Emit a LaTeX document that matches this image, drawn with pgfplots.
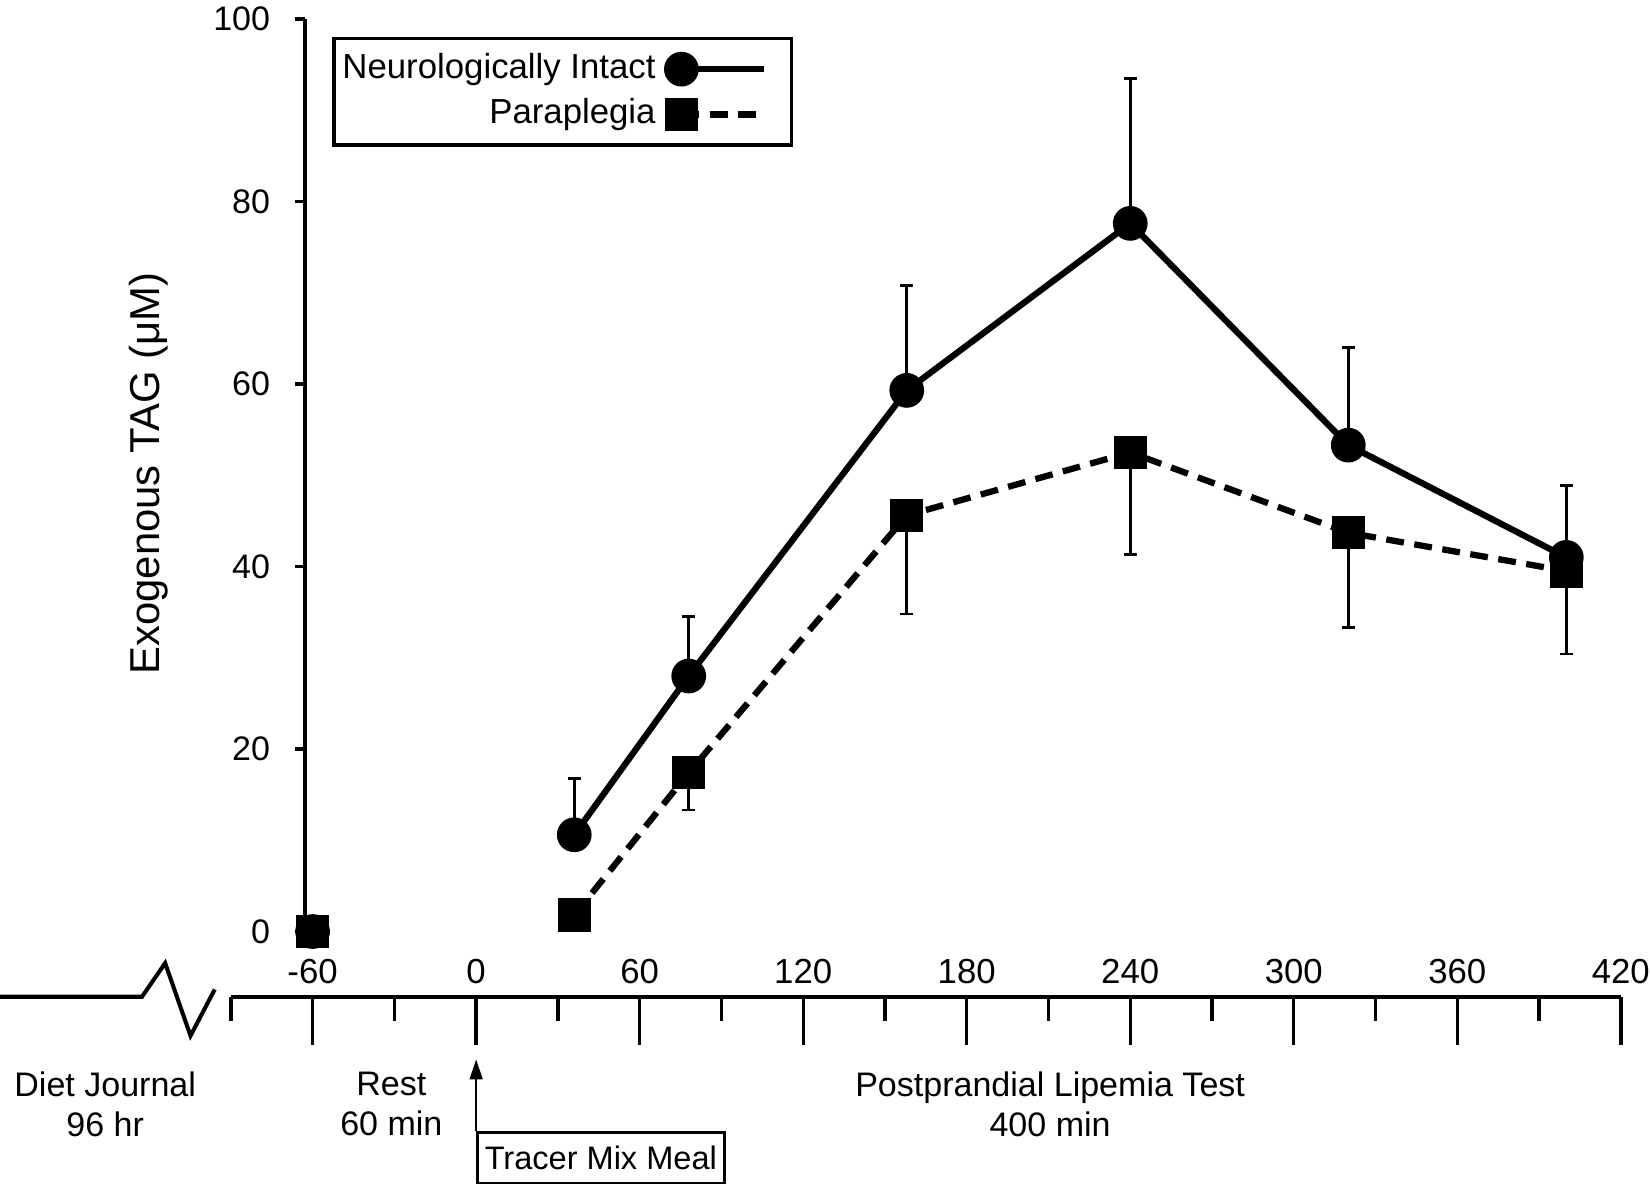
\documentclass[border=0pt]{standalone}
\usepackage{fontspec}
\setmainfont{Liberation Sans}
\usepackage{pgfplots}
\usepackage{pgfplotstable}
\pgfplotsset{compat=1.18}
\usetikzlibrary{arrows.meta}

\newcommand\fs{\fontsize{9.2pt}{10.8pt}\selectfont}

\pgfplotstableread{
x y e
-60 0 0
-20 nan 0
36 10.6 6.2
78 28.0 6.5
158 59.3 11.5
240 77.6 15.9
320 53.3 10.7
400 41.0 7.9
}\intact

\pgfplotstableread{
x y e
-60 0 0
-20 nan 0
36 1.8 0
78 17.4 4.1
158 45.6 10.8
240 52.5 11.2
320 43.7 10.4
400 39.5 9.1
}\para

\begin{document}
\begin{tikzpicture}
% ---------- x axis (labels above, ticks below)
\begin{axis}[
  x=0.0259cm, y=0.0867cm,
  at={(0cm,-1.1141cm)}, anchor=south west,
  xmin=-90, xmax=420, ymin=-20, ymax=-7.15,
  axis x line=top, axis y line=none,
  x axis line style={-, line width=1.1pt},
  xtick={-60,0,...,420},
  xticklabels={-60,0,60,120,180,240,300,360,420},
  minor xtick={-90,-30,...,390},
  xtick align=inside,
  major tick length=0.46cm, minor tick length=0.23cm,
  tick style={black, line width=0.9pt},
  xticklabel style={font=\fontsize{9.4pt}{11pt}\selectfont, anchor=south},
]
\addplot[draw=none] coordinates {(0,-10)};
\end{axis}
% ---------- y axis
\begin{axis}[
  x=0.0259cm, y=0.0867cm,
  at={(0.7071cm,0.6199cm)}, anchor=south west,
  xmin=-62.7, xmax=420, ymin=0, ymax=100,
  axis y line=left, axis x line=none,
  y axis line style={-, line width=1.1pt},
  ytick={0,20,...,100}, yticklabels={0,20,40,60,80,100},
  ytick align=outside, major tick length=0.1cm,
  tick style={black, line width=0.9pt},
  yticklabel style={font=\fs, xshift=-0.11cm},
  ylabel={Exogenous TAG (μM)},
  ylabel style={font=\fontsize{11.3pt}{13pt}\selectfont, at={(axis description cs:-0.1193,0.502)}, anchor=center},
]
\addplot[draw=none] coordinates {(0,50)};
\end{axis}
% ---------- data
\begin{axis}[
  x=0.0259cm, y=0.0867cm,
  at={(0cm,0cm)}, anchor=south west,
  xmin=-90, xmax=420, ymin=-7.15, ymax=100,
  hide axis, clip=false, unbounded coords=jump,
  legend plot pos=right,
  legend cell align=right,
  legend style={at={(axis description cs:0.0731,0.9815)}, anchor=north west,
    draw=black, line width=0.85pt, font=\fontsize{9.4pt}{11pt}\selectfont,
    inner xsep=0.01cm, inner ysep=0.115cm, row sep=0.08cm, column sep=0.04cm,
    nodes={inner ysep=0.02cm, text height=0.24cm, text depth=0.07cm}},
  legend image code/.code={\draw[#1, mark repeat=2, mark phase=1] plot coordinates {(0cm,0cm) (0.78cm,0cm)}; \path (1.01cm,0cm);},
]
\addplot[black, line width=1.7pt, mark=*, mark size=0.135cm, mark options={solid},
  error bars/.cd, y dir=plus, y explicit,
  error bar style={line width=0.7pt, solid},
  error mark=-, error mark options={rotate=90, line width=0.7pt, mark size=0.06cm, black, solid}]
  table[x=x, y=y, y error=e] {\intact};
\addplot[black, line width=1.7pt, dash pattern=on 0.17cm off 0.1cm, mark=square*, mark size=0.128cm, mark options={solid},
  error bars/.cd, y dir=minus, y explicit,
  error bar style={line width=0.7pt, solid},
  error mark=-, error mark options={rotate=90, line width=0.7pt, mark size=0.06cm, black, solid}]
  table[x=x, y=y, y error=e] {\para};
\legend{Neurologically Intact, Paraplegia}

% broken-axis mark on the left
\draw[line width=1.1pt, line join=miter] (axis cs:-174.7,-7.15) -- (axis cs:-122.6,-7.15) -- (axis cs:-114.1,-3.46) -- (axis cs:-104.8,-11.42) -- (axis cs:-95.9,-6.34);
% phase labels
\node[font=\fs, align=center] at (axis cs:-136.1,-18.9) {Diet Journal\\96 hr};
\node[font=\fs, align=center] at (axis cs:-31.1,-18.9) {Rest\\60 min};
\node[font=\fs, align=center] at (axis cs:210.6,-18.9) {Postprandial Lipemia Test\\400 min};
% meal arrow and box
\draw[line width=0.7pt, -{Triangle[length=0.19cm,width=0.12cm]}] (axis cs:0,-21.9) -- (axis cs:0,-14.0);
\node[draw, line width=0.7pt, anchor=north west, inner xsep=0.07cm, minimum height=0.48cm, font=\fontsize{8.8pt}{10pt}\selectfont] at (axis cs:0,-21.9) {Tracer Mix Meal\hspace{0.08cm}};
% page extent
\coordinate (bbSW) at (axis cs:-174.7,-28.26);
\coordinate (bbNE) at (axis cs:430.7,102.08);
\end{axis}
\pgfresetboundingbox
\path[use as bounding box] (bbSW) rectangle (bbNE);
\end{tikzpicture}
\end{document}
